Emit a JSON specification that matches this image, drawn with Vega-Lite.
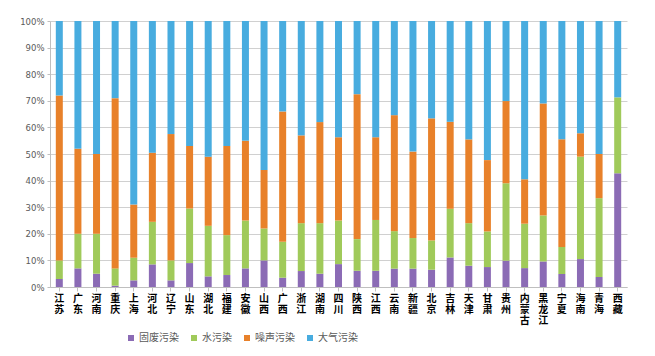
{
  "$schema": "https://vega.github.io/schema/vega-lite/v6.json",
  "autosize": "none",
  "width": 577,
  "height": 266,
  "padding": {"left": 50, "top": 21, "right": 28, "bottom": 69},
  "background": "white",
  "datasets": {
    "cats": [
      {"type": "固废污染", "k": 1},
      {"type": "水污染", "k": 2},
      {"type": "噪声污染", "k": 3},
      {"type": "大气污染", "k": 4}
    ]
  },
  "data": {
    "values": [
      {"province": "江苏", "固废污染": 3, "水污染": 7, "噪声污染": 62, "大气污染": 28},
      {"province": "广东", "固废污染": 7, "水污染": 13, "噪声污染": 32, "大气污染": 48},
      {"province": "河南", "固废污染": 5, "水污染": 15, "噪声污染": 30, "大气污染": 50},
      {"province": "重庆", "固废污染": 0.5, "水污染": 6.5, "噪声污染": 64, "大气污染": 29},
      {"province": "上海", "固废污染": 2.5, "水污染": 8.5, "噪声污染": 20, "大气污染": 69},
      {"province": "河北", "固废污染": 8.5, "水污染": 16, "噪声污染": 26, "大气污染": 49.5},
      {"province": "辽宁", "固废污染": 2.5, "水污染": 7.5, "噪声污染": 47.5, "大气污染": 42.5},
      {"province": "山东", "固废污染": 9, "水污染": 20.5, "噪声污染": 23.5, "大气污染": 47},
      {"province": "湖北", "固废污染": 4, "水污染": 19, "噪声污染": 26, "大气污染": 51},
      {"province": "福建", "固废污染": 4.5, "水污染": 15, "噪声污染": 33.5, "大气污染": 47},
      {"province": "安徽", "固废污染": 7, "水污染": 18, "噪声污染": 30, "大气污染": 45},
      {"province": "山西", "固废污染": 10, "水污染": 12, "噪声污染": 22, "大气污染": 56},
      {"province": "广西", "固废污染": 3.5, "水污染": 13.5, "噪声污染": 49, "大气污染": 34},
      {"province": "浙江", "固废污染": 6, "水污染": 18, "噪声污染": 33, "大气污染": 43},
      {"province": "湖南", "固废污染": 5, "水污染": 19, "噪声污染": 38, "大气污染": 38},
      {"province": "四川", "固废污染": 8.6, "水污染": 16.4, "噪声污染": 31.3, "大气污染": 43.7},
      {"province": "陕西", "固废污染": 6.1, "水污染": 11.9, "噪声污染": 54.5, "大气污染": 27.5},
      {"province": "江西", "固废污染": 6.1, "水污染": 19.1, "噪声污染": 31.1, "大气污染": 43.7},
      {"province": "云南", "固废污染": 6.9, "水污染": 14.1, "噪声污染": 43.6, "大气污染": 35.4},
      {"province": "新疆", "固废污染": 6.9, "水污染": 11.5, "噪声污染": 32.5, "大气污染": 49.1},
      {"province": "北京", "固废污染": 6.5, "水污染": 11, "噪声污染": 45.9, "大气污染": 36.6},
      {"province": "吉林", "固废污染": 11.1, "水污染": 18.3, "噪声污染": 32.7, "大气污染": 37.9},
      {"province": "天津", "固废污染": 8, "水污染": 16, "噪声污染": 31.5, "大气污染": 44.5},
      {"province": "甘肃", "固废污染": 7.5, "水污染": 13.4, "噪声污染": 26.8, "大气污染": 52.3},
      {"province": "贵州", "固废污染": 9.9, "水污染": 29.1, "噪声污染": 30.9, "大气污染": 30.1},
      {"province": "内蒙古", "固废污染": 7.1, "水污染": 16.7, "噪声污染": 16.7, "大气污染": 59.5},
      {"province": "黑龙江", "固废污染": 9.6, "水污染": 17.3, "噪声污染": 42.1, "大气污染": 31},
      {"province": "宁夏", "固废污染": 4.9, "水污染": 10.1, "噪声污染": 40.5, "大气污染": 44.5},
      {"province": "海南", "固废污染": 10.5, "水污染": 38.5, "噪声污染": 8.8, "大气污染": 42.2},
      {"province": "青海", "固废污染": 3.75, "水污染": 29.65, "噪声污染": 16.6, "大气污染": 50},
      {"province": "西藏", "固废污染": 42.75, "水污染": 28.55, "噪声污染": 0, "大气污染": 28.7}
    ]
  },
  "transform": [
    {"fold": ["固废污染", "水污染", "噪声污染", "大气污染"], "as": ["type", "value"]},
    {"lookup": "type", "from": {"data": {"name": "cats"}, "key": "type", "fields": ["k"]}}
  ],
  "mark": {"type": "bar", "width": 7},
  "encoding": {
    "x": {
      "field": "province",
      "type": "nominal",
      "sort": null,
      "scale": {"paddingInner": 0.6, "paddingOuter": 0.3},
      "axis": {
        "title": null,
        "labelAngle": 0,
        "labelExpr": "split(datum.label, '')",
        "labelFont": "Noto Sans CJK SC",
        "labelFontWeight": "bold",
        "labelFontSize": 10,
        "labelLineHeight": 11,
        "labelColor": "#000000",
        "labelPadding": 2,
        "labelBaseline": "top",
        "labelOverlap": false,
        "domainColor": "#bfbfbf",
        "tickColor": "#bfbfbf",
        "tickSize": 4,
        "grid": false
      }
    },
    "y": {
      "field": "value",
      "type": "quantitative",
      "stack": "normalize",
      "scale": {"domain": [0, 1], "nice": false},
      "axis": {
        "title": null,
        "format": ".0%",
        "values": [0, 0.1, 0.2, 0.3, 0.4, 0.5, 0.6, 0.7, 0.8, 0.9, 1],
        "labelOverlap": false,
        "labelFlush": false,
        "labelFont": "DejaVu Sans",
        "labelFontSize": 8.5,
        "labelColor": "#595959",
        "labelPadding": 3,
        "domainColor": "#bfbfbf",
        "tickColor": "#bfbfbf",
        "tickSize": 3,
        "gridColor": "#d0d0d0",
        "gridWidth": 1
      }
    },
    "color": {
      "field": "type",
      "type": "nominal",
      "scale": {
        "domain": ["固废污染", "水污染", "噪声污染", "大气污染"],
        "range": ["#8B6BB5", "#A0CA5A", "#E8812A", "#48ACDF"]
      },
      "legend": {
        "title": null,
        "orient": "none",
        "direction": "horizontal",
        "legendX": 76,
        "legendY": 312,
        "symbolType": "square",
        "symbolSize": 36,
        "symbolStrokeWidth": 0,
        "labelFont": "Noto Sans CJK SC",
        "labelFontSize": 10,
        "labelColor": "#595959",
        "labelOffset": 3,
        "columnSpacing": 20
      }
    },
    "order": {"field": "k", "type": "quantitative"}
  },
  "config": {"view": {"stroke": null}}
}
